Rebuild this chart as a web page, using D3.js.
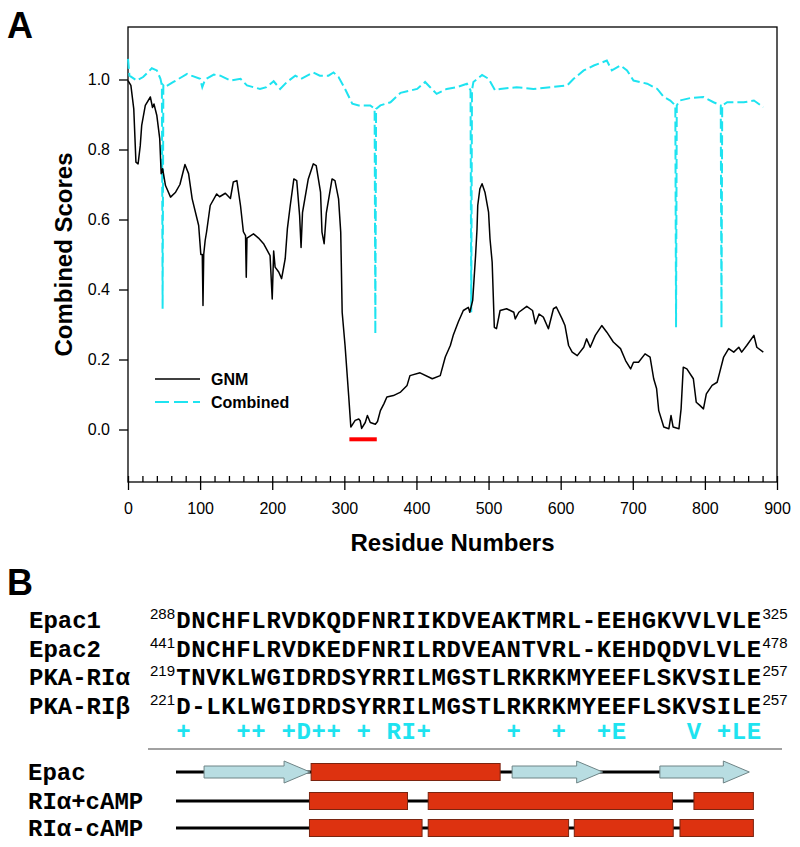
<!DOCTYPE html>
<html>
<head>
<meta charset="utf-8">
<script src="https://cdn.jsdelivr.net/npm/d3@7/dist/d3.min.js"></script>
<style>
  body { margin: 0; background: #fff; }
  svg { display: block; }
</style>
</head>
<body>
<div id="vis"></div>
<script>
'use strict';

// Panel A: GNM profile, [residue, score]
const gnmProfile = [
  [0,0.997],[4,0.983],[8,0.916],[11,0.764],[14,0.759],[17,0.811],[19,0.869],[24,0.926],[31,0.95],[34,0.92],
  [36,0.93],[40,0.897],[44,0.831],[46,0.731],[48,0.745],[52,0.697],[59,0.664],[66,0.678],[72,0.70],[79,0.757],
  [84,0.731],[89,0.659],[98,0.583],[101,0.50],[103,0.50],[104,0.354],[105,0.50],[107,0.54],[109,0.565],[114,0.64],
  [123,0.673],[127,0.665],[135,0.675],[142,0.66],[146,0.707],[151,0.711],[156,0.64],[160,0.565],[163,0.554],[164,0.435],
  [165,0.547],[174,0.559],[181,0.547],[188,0.531],[197,0.497],[200,0.373],[202,0.51],[204,0.464],[209,0.45],[213,0.431],
  [216,0.465],[218,0.488],[221,0.573],[225,0.64],[230,0.716],[234,0.711],[238,0.611],[240,0.52],[242,0.62],[250,0.716],
  [257,0.759],[261,0.754],[267,0.678],[269,0.564],[272,0.531],[275,0.618],[283,0.716],[287,0.711],[292,0.659],[295,0.564],
  [297,0.335],[301,0.24],[306,0.097],[309,0.007],[315,0.026],[320,0.03],[322,0.025],[324,0.003],[329,0.02],[332,0.04],
  [336,0.02],[343,0.015],[346,0.023],[350,0.054],[355,0.074],[359,0.093],[368,0.097],[378,0.107],[387,0.126],[391,0.154],
  [405,0.162],[422,0.145],[433,0.154],[440,0.207],[447,0.24],[451,0.269],[458,0.307],[465,0.34],[472,0.349],[474,0.335],
  [478,0.369],[482,0.497],[484,0.573],[485,0.64],[488,0.688],[491,0.702],[495,0.678],[500,0.621],[502,0.545],[505,0.478],
  [508,0.292],[511,0.288],[516,0.34],[525,0.345],[535,0.335],[537,0.316],[542,0.335],[553,0.352],[561,0.34],[565,0.302],
  [570,0.33],[576,0.321],[583,0.288],[590,0.345],[594,0.35],[602,0.316],[606,0.297],[611,0.24],[616,0.221],[623,0.211],
  [632,0.235],[636,0.259],[641,0.235],[648,0.269],[657,0.297],[664,0.278],[673,0.25],[683,0.231],[690,0.197],[697,0.173],
  [701,0.192],[708,0.192],[717,0.216],[724,0.207],[729,0.145],[733,0.117],[736,0.054],[743,0.007],[750,0.002],[753,0.04],
  [756,0.007],[764,0.002],[767,0.059],[770,0.178],[775,0.173],[784,0.145],[788,0.078],[793,0.069],[798,0.059],[802,0.102],
  [810,0.126],[817,0.135],[820,0.159],[826,0.207],[833,0.231],[840,0.221],[847,0.235],[851,0.221],[858,0.24],[868,0.269],
  [872,0.235],[881,0.221]
];

// Panel A: combined score profile, [residue, score]
const combinedProfile = [
  [0,1.059],[2,1.011],[12,0.997],[21,1.007],[33,1.032],[40,1.026],[45,1.002],[47,0.983],[48,0.345],[49,0.983],
  [51,0.978],[63,0.993],[82,1.016],[88,1.011],[100,1.002],[103,0.978],[107,1.0],[119,1.014],[128,1.011],[142,0.997],
  [156,1.002],[165,0.983],[183,0.973],[192,0.978],[202,0.995],[211,0.973],[220,0.992],[232,1.011],[240,1.002],[257,1.02],
  [266,1.011],[278,1.011],[285,1.02],[292,1.007],[301,0.973],[311,0.931],[320,0.926],[336,0.926],[342,0.916],[343,0.273],
  [344,0.916],[350,0.926],[364,0.935],[378,0.962],[401,0.973],[412,0.993],[419,0.978],[428,0.959],[442,0.973],[456,0.978],
  [470,0.988],[475,0.969],[476,0.335],[477,0.969],[479,0.993],[491,1.013],[500,1.002],[509,0.969],[516,0.973],[539,0.978],
  [562,0.973],[586,0.978],[609,0.983],[618,1.002],[632,1.026],[646,1.04],[664,1.054],[671,1.026],[683,1.04],[692,1.026],
  [701,0.997],[720,0.988],[734,0.973],[743,0.95],[752,0.94],[759,0.926],[760,0.292],[761,0.926],[765,0.94],[780,0.947],
  [798,0.95],[812,0.935],[822,0.926],[823,0.29],[824,0.926],[831,0.935],[854,0.935],[868,0.94],[881,0.921]
];

const xMajorTicks = [0, 100, 200, 300, 400, 500, 600, 700, 800, 900];
const xMinorTicks = d3.range(0, 901, 20);
const yTicks = [0.0, 0.2, 0.4, 0.6, 0.8, 1.0];
const hingeRange = [307, 345];   // red bar under the minimum
const hingeLevel = -0.028;

// Panel B: alignment
const seqNames = ["Epac1", "Epac2", "PKA-RI\u03b1", "PKA-RI\u03b2"];
const seqStarts = ["288", "441", "219", "221"];
const seqEnds = ["325", "478", "257", "257"];
const sequences = [
  "DNCHFLRVDKQDFNRIIKDVEAKTMRL-EEHGKVVLVLE",
  "DNCHFLRVDKEDFNRILRDVEANTVRL-KEHDQDVLVLE",
  "TNVKLWGIDRDSYRRILMGSTLRKRKMYEEFLSKVSILE",
  "D-LKLWGIDRDSYRRILMGSTLRKRKMYEEFLSKVSILE"
];
const consensus = "+   ++ +D++ + RI+     +  +  +E    V +LE";

// Panel B: secondary structure, in alignment columns
const trackNames = ["Epac", "RI\u03b1+cAMP", "RI\u03b1-cAMP"];
const trackEnds = [38.19, 38.46, 38.46];
const epacStrands = [[1.87, 8.93], [22.39, 28.42], [32.23, 38.19]];
const epacHelices = [[9.0, 21.59]];
const riPlusHelices = [[8.89, 15.42], [16.8, 33.07], [34.5, 38.46]];
const riMinusHelices = [[8.89, 16.39], [16.8, 26.15], [26.53, 33.12], [33.57, 38.46]];

const W = 800, H = 847;
const plot = {left: 128, right: 777, top: 27, bottom: 482};
const cyan = "#1ee3f0";
const sans = "Arial, 'Liberation Sans', Helvetica, sans-serif";
const mono = "'Courier New', 'Liberation Mono', monospace";

const svg = d3.select("#vis").append("svg")
    .attr("width", W)
    .attr("height", H);

// ---------- Panel A ----------
const x = d3.scaleLinear().domain([0, 900]).range([plot.left, plot.right]);
const y = d3.scaleLinear().domain([-0.15, 1.15]).range([plot.bottom, plot.top]);

svg.append("text")
    .attr("x", 7).attr("y", 38)
    .style("font-family", sans).style("font-weight", "bold").style("font-size", "36px")
    .text("A");

// frame
svg.append("rect")
    .attr("x", plot.left).attr("y", plot.top)
    .attr("width", plot.right - plot.left).attr("height", plot.bottom - plot.top)
    .attr("fill", "none").attr("stroke", "#000").attr("stroke-width", 1.3);

// y axis
const yAxis = svg.append("g")
    .attr("transform", "translate(" + plot.left + ",0)")
    .call(d3.axisLeft(y).tickValues(yTicks).tickSize(9).tickPadding(9).tickFormat(d3.format(".1f")));
yAxis.select(".domain").remove();
yAxis.selectAll("line").attr("stroke-width", 1.3);
yAxis.selectAll("text").style("font-family", sans).style("font-size", "16px").attr("fill", "#000");

// x axis: major ticks outward, minor ticks inward
const xAxis = svg.append("g")
    .attr("transform", "translate(0," + plot.bottom + ")")
    .call(d3.axisBottom(x).tickValues(xMajorTicks).tickSize(8).tickPadding(13).tickFormat(d3.format("d")));
xAxis.select(".domain").remove();
xAxis.selectAll("line").attr("stroke-width", 1.3);
xAxis.selectAll("text").style("font-family", sans).style("font-size", "16px").attr("fill", "#000");

const xMinor = svg.append("g")
    .attr("transform", "translate(0," + plot.bottom + ")")
    .call(d3.axisTop(x).tickValues(xMinorTicks).tickSize(6).tickFormat(""));
xMinor.select(".domain").remove();
xMinor.selectAll("line").attr("stroke-width", 1.3);

svg.append("text")
    .attr("x", (plot.left + plot.right) / 2).attr("y", 551)
    .attr("text-anchor", "middle")
    .style("font-family", sans).style("font-weight", "bold").style("font-size", "24px")
    .text("Residue Numbers");

svg.append("text")
    .attr("transform", "translate(72," + (plot.top + plot.bottom) / 2 + ")rotate(-90)")
    .attr("text-anchor", "middle")
    .style("font-family", sans).style("font-weight", "bold").style("font-size", "24px")
    .text("Combined Scores");

const line = d3.line()
    .x(d => x(d[0]))
    .y(d => y(d[1]));

svg.append("path")
    .datum(combinedProfile)
    .attr("d", line)
    .attr("fill", "none")
    .attr("stroke", cyan)
    .attr("stroke-width", 2)
    .attr("stroke-dasharray", "10,4");

svg.append("path")
    .datum(gnmProfile)
    .attr("d", line)
    .attr("fill", "none")
    .attr("stroke", "#000")
    .attr("stroke-width", 1.5)
    .attr("stroke-linejoin", "round");

svg.append("line")
    .attr("x1", x(hingeRange[0])).attr("x2", x(hingeRange[1]))
    .attr("y1", y(hingeLevel)).attr("y2", y(hingeLevel))
    .attr("stroke", "#ff0000").attr("stroke-width", 4);

// legend
const legend = svg.append("g").attr("transform", "translate(155,379)");
legend.append("line").attr("x1", 0).attr("x2", 45).attr("y1", 0).attr("y2", 0)
    .attr("stroke", "#000").attr("stroke-width", 1.5);
legend.append("text").attr("x", 56).attr("y", 6)
    .style("font-family", sans).style("font-weight", "bold").style("font-size", "16px")
    .text("GNM");
legend.append("line").attr("x1", 0).attr("x2", 45).attr("y1", 23).attr("y2", 23)
    .attr("stroke", cyan).attr("stroke-width", 2).attr("stroke-dasharray", "14,5");
legend.append("text").attr("x", 56).attr("y", 29)
    .style("font-family", sans).style("font-weight", "bold").style("font-size", "16px")
    .text("Combined");

// ---------- Panel B ----------
svg.append("text")
    .attr("x", 7).attr("y", 595)
    .style("font-family", sans).style("font-weight", "bold").style("font-size", "36px")
    .text("B");

const col = d3.scaleLinear().domain([0, 39]).range([176, 761.5]);
const rowY = d3.scaleLinear().domain([0, 1]).range([628, 656.7]);

const rows = svg.append("g").selectAll("g")
    .data(sequences)
    .enter()
    .append("g")
    .attr("transform", (d, i) => "translate(0," + rowY(i) + ")");

rows.append("text")
    .attr("x", 29).attr("y", 0)
    .style("font-family", mono).style("font-weight", "bold").style("font-size", "24px")
    .text((d, i) => seqNames[i]);

rows.append("text")
    .attr("x", col(0) - 1).attr("y", -9)
    .attr("text-anchor", "end")
    .style("font-family", sans).style("font-size", "15px")
    .text((d, i) => seqStarts[i]);

rows.append("text")
    .attr("x", col(39) + 1).attr("y", -9)
    .style("font-family", sans).style("font-size", "15px")
    .text((d, i) => seqEnds[i]);

rows.selectAll(".res")
    .data(d => d.split(""))
    .enter()
    .append("text")
    .attr("class", "res")
    .attr("x", (d, i) => col(i + 0.5)).attr("y", 0)
    .attr("text-anchor", "middle")
    .style("font-family", mono).style("font-weight", "bold").style("font-size", "24px")
    .text(d => d);

svg.append("g")
    .attr("transform", "translate(0,739)")
    .selectAll("text")
    .data(consensus.split(""))
    .enter()
    .append("text")
    .attr("x", (d, i) => col(i + 0.5)).attr("y", 0)
    .attr("text-anchor", "middle")
    .style("font-family", mono).style("font-weight", "bold").style("font-size", "24px")
    .attr("fill", cyan)
    .text(d => d);

svg.append("line")
    .attr("x1", 148).attr("x2", 782)
    .attr("y1", 749).attr("y2", 749)
    .attr("stroke", "#444").attr("stroke-width", 1.2);

// secondary structure tracks
const trackY = [772, 801, 828];
const trackHelices = [epacHelices, riPlusHelices, riMinusHelices];
const trackStrands = [epacStrands, [], []];

trackNames.forEach((name, t) => {
    const g = svg.append("g").attr("transform", "translate(0," + trackY[t] + ")");
    g.append("text")
        .attr("x", 28).attr("y", 8)
        .style("font-family", mono).style("font-weight", "bold").style("font-size", "24px")
        .text(name);
    g.append("line")
        .attr("x1", col(0)).attr("x2", col(trackEnds[t]) - 4)
        .attr("y1", 0).attr("y2", 0)
        .attr("stroke", "#000").attr("stroke-width", 3);
    g.selectAll(".strand")
        .data(trackStrands[t])
        .enter()
        .append("path")
        .attr("class", "strand")
        .attr("d", d => {
            const x0 = col(d[0]), x1 = col(d[1]), xh = x1 - 26;
            return "M" + x0 + ",-6L" + xh + ",-6L" + xh + ",-11L" + x1 + ",0L" + xh + ",11L" + xh + ",6L" + x0 + ",6Z";
        })
        .attr("fill", "#b8dde2")
        .attr("stroke", "#6f8486")
        .attr("stroke-width", 1);
    g.selectAll(".helix")
        .data(trackHelices[t])
        .enter()
        .append("rect")
        .attr("class", "helix")
        .attr("x", d => col(d[0]))
        .attr("width", d => col(d[1]) - col(d[0]))
        .attr("y", -8.5).attr("height", 17)
        .attr("fill", "#dd3210")
        .attr("stroke", "#7a2410")
        .attr("stroke-width", 1);
});
</script>
</body>
</html>
